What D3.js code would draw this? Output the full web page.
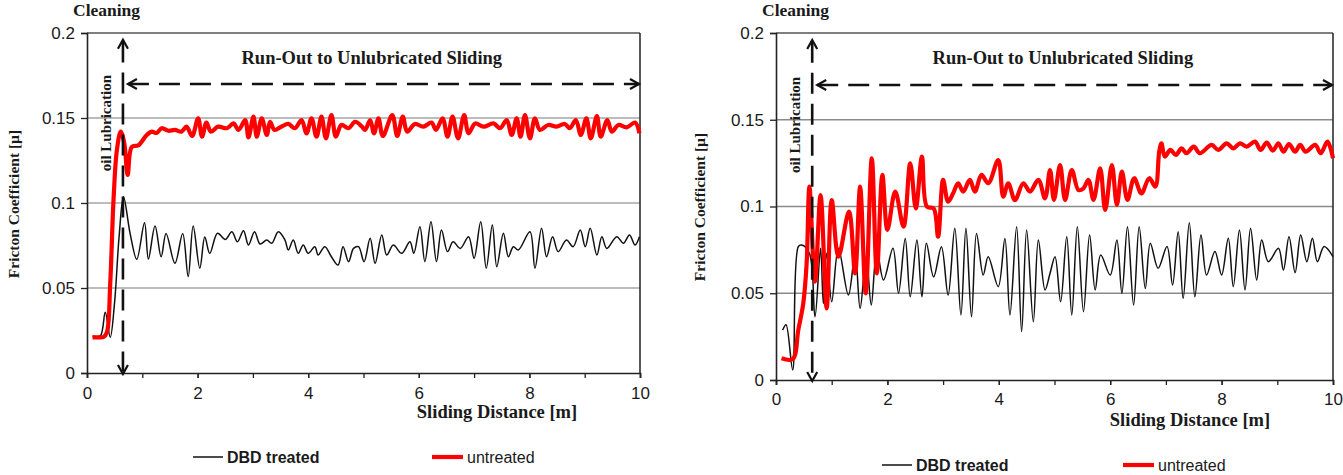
<!DOCTYPE html>
<html>
<head>
<meta charset="utf-8">
<script src="https://cdn.jsdelivr.net/npm/d3@7"></script>
<style>
  html,body{margin:0;padding:0;background:#fff;}
  svg{display:block;}
  .serif{font-family:"Liberation Serif","Times New Roman",serif;font-weight:bold;fill:#1a1a1a;}
  .sans{font-family:"Liberation Sans",Arial,sans-serif;fill:#1a1a1a;}
</style>
</head>
<body>
<svg id="chart" width="1343" height="475"></svg>
<script>
// ---------------- DATA ----------------
const yTickValues = [0, 0.05, 0.1, 0.15, 0.2];
const yTickLabels = ["0", "0.05", "0.1", "0.15", "0.2"];
const xTickValues = [0, 2, 4, 6, 8, 10];
const xTickLabels = ["0", "2", "4", "6", "8", "10"];
const seriesNames = ["DBD treated", "untreated"];

// Left panel – DBD treated
const leftDbdX = [0.10,0.24,0.33,0.42,0.50,0.58,0.66,0.78,0.90,1.04,1.11,1.23,1.34,1.43,1.59,1.73,1.83,1.92,2.04,2.13,2.22,2.36,2.50,2.62,2.72,2.83,2.92,3.03,3.13,3.25,3.34,3.46,3.58,3.64,3.73,3.82,3.91,4.00,4.12,4.18,4.30,4.42,4.54,4.63,4.73,4.82,4.91,5.01,5.12,5.21,5.33,5.42,5.54,5.69,5.84,5.91,6.02,6.11,6.22,6.32,6.41,6.52,6.62,6.75,6.90,7.00,7.12,7.22,7.33,7.41,7.53,7.62,7.71,7.80,8.01,8.10,8.22,8.31,8.42,8.52,8.67,8.79,8.92,9.01,9.10,9.22,9.31,9.40,9.58,9.70,9.81,9.91,9.99];
const leftDbdY = [0.0218,0.0218,0.0357,0.0210,0.0420,0.0800,0.1037,0.0820,0.0669,0.0884,0.0670,0.0865,0.0684,0.0820,0.0645,0.0820,0.0567,0.0865,0.0616,0.0800,0.0704,0.0822,0.0786,0.0831,0.0772,0.0837,0.0753,0.0831,0.0759,0.0782,0.0763,0.0831,0.0782,0.0724,0.0782,0.0704,0.0753,0.0704,0.0743,0.0694,0.0743,0.0684,0.0635,0.0743,0.0655,0.0733,0.0743,0.0655,0.0792,0.0645,0.0812,0.0694,0.0753,0.0704,0.0772,0.0704,0.0861,0.0655,0.0890,0.0655,0.0841,0.0714,0.0772,0.0733,0.0802,0.0675,0.0890,0.0616,0.0871,0.0625,0.0822,0.0684,0.0743,0.0724,0.0831,0.0616,0.0851,0.0684,0.0802,0.0714,0.0782,0.0743,0.0841,0.0743,0.0851,0.0694,0.0802,0.0733,0.0802,0.0763,0.0812,0.0753,0.0802];

// Left panel – untreated
const leftUntrX = [0.10,0.20,0.30,0.36,0.42,0.48,0.54,0.61,0.675,0.735,0.81,0.93,1.08,1.17,1.26,1.35,1.47,1.59,1.71,1.80,1.90,2.01,2.08,2.16,2.24,2.37,2.53,2.65,2.74,2.86,2.92,3.01,3.07,3.16,3.25,3.31,3.39,3.52,3.64,3.76,3.88,3.97,4.06,4.15,4.24,4.32,4.42,4.50,4.60,4.73,4.85,4.97,5.03,5.12,5.19,5.27,5.35,5.52,5.61,5.71,5.79,5.93,6.08,6.23,6.31,6.43,6.52,6.61,6.71,6.82,6.90,7.02,7.17,7.35,7.47,7.59,7.68,7.77,7.84,7.92,8.01,8.10,8.19,8.34,8.49,8.64,8.73,8.84,8.93,9.03,9.11,9.22,9.29,9.41,9.49,9.61,9.76,9.91,9.99];
const leftUntrY = [0.0210,0.0210,0.0212,0.0240,0.0527,0.1020,0.1310,0.1420,0.1350,0.1165,0.1330,0.1340,0.1400,0.1420,0.1412,0.1440,0.1425,0.1430,0.1420,0.1449,0.1394,0.1498,0.1390,0.1473,0.1420,0.1449,0.1440,0.1468,0.1430,0.1488,0.1386,0.1508,0.1390,0.1498,0.1400,0.1478,0.1430,0.1450,0.1465,0.1440,0.1488,0.1410,0.1498,0.1390,0.1508,0.1380,0.1517,0.1390,0.1459,0.1440,0.1478,0.1450,0.1430,0.1488,0.1410,0.1498,0.1394,0.1517,0.1394,0.1508,0.1420,0.1465,0.1449,0.1473,0.1430,0.1498,0.1390,0.1508,0.1380,0.1517,0.1410,0.1468,0.1449,0.1468,0.1440,0.1488,0.1400,0.1498,0.1390,0.1517,0.1380,0.1498,0.1430,0.1459,0.1449,0.1465,0.1440,0.1488,0.1400,0.1498,0.1380,0.1511,0.1390,0.1488,0.1420,0.1459,0.1445,0.1473,0.1410];

// Right panel – DBD treated
const rightDbdX = [0.12,0.18,0.30,0.40,0.46,0.60,0.70,0.80,0.85,0.91,1.00,1.12,1.30,1.42,1.51,1.62,1.71,1.81,1.93,2.10,2.20,2.32,2.41,2.53,2.62,2.70,2.83,2.97,3.09,3.21,3.32,3.41,3.51,3.60,3.72,3.81,3.99,4.11,4.20,4.32,4.41,4.50,4.62,4.71,4.83,4.92,5.01,5.11,5.22,5.31,5.41,5.52,5.63,5.73,5.83,6.00,6.12,6.21,6.31,6.42,6.52,6.63,6.72,6.86,7.02,7.12,7.22,7.31,7.42,7.52,7.63,7.73,7.88,8.00,8.12,8.21,8.32,8.42,8.52,8.63,8.72,8.84,9.02,9.11,9.21,9.32,9.42,9.53,9.63,9.72,9.84,10.0];
const rightDbdY = [0.0288,0.0319,0.0058,0.0768,0.0778,0.0730,0.0365,0.0759,0.0441,0.0730,0.0451,0.0759,0.0490,0.0730,0.0413,0.0710,0.0432,0.0749,0.0576,0.0759,0.0500,0.0816,0.0480,0.0807,0.0480,0.0788,0.0595,0.0768,0.0490,0.0874,0.0375,0.0874,0.0365,0.0845,0.0605,0.0711,0.0538,0.0816,0.0375,0.0884,0.0279,0.0864,0.0336,0.0807,0.0519,0.0615,0.0711,0.0451,0.0826,0.0375,0.0884,0.0394,0.0836,0.0519,0.0720,0.0605,0.0807,0.0500,0.0884,0.0432,0.0884,0.0528,0.0788,0.0644,0.0769,0.0547,0.0855,0.0471,0.0907,0.0480,0.0836,0.0605,0.0740,0.0605,0.0817,0.0538,0.0865,0.0519,0.0874,0.0576,0.0807,0.0682,0.0759,0.0634,0.0826,0.0619,0.0836,0.0682,0.0817,0.0682,0.0769,0.0711];

// Right panel – untreated
const rightUntrX = [0.10,0.30,0.40,0.49,0.55,0.60,0.70,0.80,0.91,1.00,1.12,1.31,1.42,1.51,1.61,1.72,1.81,1.91,2.00,2.14,2.29,2.41,2.51,2.62,2.71,2.83,2.91,3.00,3.09,3.18,3.27,3.36,3.48,3.57,3.69,3.81,3.99,4.08,4.17,4.29,4.44,4.56,4.71,4.83,4.92,4.99,5.10,5.19,5.31,5.43,5.52,5.61,5.70,5.82,5.91,6.03,6.12,6.21,6.31,6.43,6.56,6.70,6.81,6.88,6.92,6.98,7.08,7.18,7.28,7.37,7.50,7.61,7.82,7.94,8.09,8.21,8.33,8.45,8.60,8.70,8.81,8.92,9.02,9.11,9.21,9.32,9.41,9.51,9.68,9.78,9.90,10.0];
const rightUntrY = [0.0125,0.0120,0.0288,0.0442,0.0672,0.1114,0.0567,0.1066,0.0413,0.1037,0.0711,0.0970,0.0615,0.1114,0.0499,0.1278,0.0615,0.1182,0.0865,0.1086,0.0884,0.1249,0.0989,0.1287,0.0999,0.0989,0.0826,0.1153,0.1028,0.1076,0.1134,0.1086,0.1153,0.1086,0.1182,0.1134,0.1268,0.1057,0.1134,0.1037,0.1134,0.1086,0.1153,0.1047,0.1210,0.1038,0.1239,0.1038,0.1210,0.1095,0.1105,0.1153,0.1038,0.1220,0.0980,0.1239,0.1009,0.1201,0.1038,0.1163,0.1076,0.1163,0.1115,0.1316,0.1364,0.1288,0.1326,0.1297,0.1335,0.1307,0.1345,0.1307,0.1355,0.1326,0.1364,0.1335,0.1364,0.1345,0.1374,0.1326,0.1368,0.1322,0.1364,0.1316,0.1360,0.1316,0.1355,0.1316,0.1355,0.1307,0.1374,0.1278];

// ---------------- DRAW ----------------
const svg = d3.select("#chart");

const panels = [
  {x0: 87, x1: 640, y0: 373, y1: 33, dbdX: leftDbdX, dbdY: leftDbdY, unX: leftUntrX, unY: leftUntrY,
   yTitle: [13, 204], xTitle: [497, 418], legendY: 457, legendDbd: 193, legendUn: 432, gridColor: "#a6a6a6"},
  {x0: 776, x1: 1333, y0: 380, y1: 33, dbdX: rightDbdX, dbdY: rightDbdY, unX: rightUntrX, unY: rightUntrY,
   yTitle: [699, 207], xTitle: [1190, 426], legendY: 465, legendDbd: 882, legendUn: 1123, gridColor: "#8a8a8a"}
];

panels.forEach(p => {
  const x = d3.scaleLinear().domain([0, 10]).range([p.x0, p.x1]);
  const y = d3.scaleLinear().domain([0, 0.2]).range([p.y0, p.y1]);
  const g = svg.append("g");

  // gridlines
  g.selectAll("line.grid").data([0.05, 0.1, 0.15]).enter().append("line")
    .attr("x1", p.x0).attr("x2", p.x1).attr("y1", d => y(d)).attr("y2", d => y(d))
    .attr("stroke", p.gridColor).attr("stroke-width", 1.3);
  // top border and right border
  g.append("line").attr("x1", p.x0).attr("x2", p.x1).attr("y1", y(0.2)).attr("y2", y(0.2))
    .attr("stroke", "#555").attr("stroke-width", 1.5);
  g.append("line").attr("x1", p.x1).attr("x2", p.x1).attr("y1", y(0.2)).attr("y2", y(0))
    .attr("stroke", "#222").attr("stroke-width", 1.5);

  // axes
  const yAxis = d3.axisLeft(y).tickValues(yTickValues)
    .tickFormat((d, i) => yTickLabels[i]).tickSize(6).tickPadding(6);
  const ya = g.append("g").attr("transform", `translate(${p.x0},0)`).call(yAxis);
  const xAxisMinor = d3.axisBottom(x).tickValues(d3.range(0, 11)).tickFormat("").tickSize(5);
  const xm = g.append("g").attr("transform", `translate(0,${p.y0})`).call(xAxisMinor);
  const xAxis = d3.axisBottom(x).tickValues(xTickValues)
    .tickFormat((d, i) => xTickLabels[i]).tickSize(5).tickPadding(p.y0 === 373 ? 9 : 8);
  const xa = g.append("g").attr("transform", `translate(0,${p.y0})`).call(xAxis);
  [ya, xa, xm].forEach(a => {
    a.select(".domain").attr("stroke", "#222").attr("stroke-width", 1.6);
    a.selectAll(".tick line").attr("stroke", "#222").attr("stroke-width", 1.3);
    a.selectAll("text").attr("class", "sans").style("font-size", "17px").attr("fill", "#1a1a1a");
  });
  xm.select(".domain").remove();

  // series
  const line = d3.line().curve(d3.curveCatmullRom.alpha(0.5));
  g.append("path")
    .attr("d", line(p.dbdX.map((v, i) => [x(v), y(p.dbdY[i])])))
    .attr("fill", "none").attr("stroke", "#111").attr("stroke-width", 1.5);
  g.append("path")
    .attr("d", line(p.unX.map((v, i) => [x(v), y(p.unY[i])])))
    .attr("fill", "none").attr("stroke", "#ff0000").attr("stroke-width", 4.2)
    .attr("stroke-linejoin", "round");

  // annotations
  const ax = x(0.65);
  const dash = "21,10";
  g.append("line").attr("x1", ax).attr("x2", ax).attr("y1", y(0.195)).attr("y2", y(0.001))
    .attr("stroke", "#111").attr("stroke-width", 2.6).attr("stroke-dasharray", dash);
  const hy = y(0.17);
  const hx0 = x(0.74);
  g.append("line").attr("x1", hx0).attr("x2", p.x1 - 1).attr("y1", hy).attr("y2", hy)
    .attr("stroke", "#111").attr("stroke-width", 2.6).attr("stroke-dasharray", dash);
  const head = (pts) => g.append("polyline").attr("points", pts.map(q => q.join(",")).join(" "))
    .attr("fill", "none").attr("stroke", "#111").attr("stroke-width", 2.2);
  const ty = y(0.196), by = y(0) + 1;
  head([[ax - 5, ty + 9], [ax, ty], [ax + 5, ty + 9]]);
  head([[ax - 5, by - 9], [ax, by], [ax + 5, by - 9]]);
  head([[hx0 + 9, hy - 5], [hx0, hy], [hx0 + 9, hy + 5]]);
  head([[p.x1 - 10, hy - 5], [p.x1 - 1, hy], [p.x1 - 10, hy + 5]]);

  g.append("text").attr("class", "serif").attr("x", p.x0 - 14).attr("y", 16)
    .style("font-size", "17.5px").text("Cleaning");
  g.append("text").attr("class", "serif").attr("x", x(5.15)).attr("y", y(0.182))
    .attr("text-anchor", "middle").style("font-size", "18.5px").text("Run-Out to Unlubricated Sliding");
  g.append("text").attr("class", "serif")
    .attr("transform", `translate(${x(0.35)},${y(0.147)}) rotate(-90)`)
    .attr("text-anchor", "middle").attr("dominant-baseline", "central")
    .style("font-size", "15px").text("oil Lubrication");

  // axis titles
  g.append("text").attr("class", "serif")
    .attr("transform", `translate(${p.yTitle[0]},${p.yTitle[1]}) rotate(-90)`)
    .attr("text-anchor", "middle").attr("dominant-baseline", "central")
    .style("font-size", "15.5px").text("Fricton Coefficient [µ]");
  g.append("text").attr("class", "serif").attr("x", p.xTitle[0]).attr("y", p.xTitle[1])
    .attr("text-anchor", "middle").style("font-size", "18.5px").text("Sliding Distance [m]");

  // legend
  const ly = p.legendY;
  g.append("line").attr("x1", p.legendDbd).attr("x2", p.legendDbd + 30).attr("y1", ly).attr("y2", ly)
    .attr("stroke", "#111").attr("stroke-width", 1.5);
  g.append("text").attr("class", "sans").attr("x", p.legendDbd + 34).attr("y", ly + 6)
    .style("font-size", "16px").style("font-weight", "bold").text(seriesNames[0]);
  g.append("line").attr("x1", p.legendUn).attr("x2", p.legendUn + 31).attr("y1", ly).attr("y2", ly)
    .attr("stroke", "#ff0000").attr("stroke-width", 4.2);
  g.append("text").attr("class", "sans").attr("x", p.legendUn + 35).attr("y", ly + 6)
    .style("font-size", "16px").text(seriesNames[1]);
});
</script>
</body>
</html>
